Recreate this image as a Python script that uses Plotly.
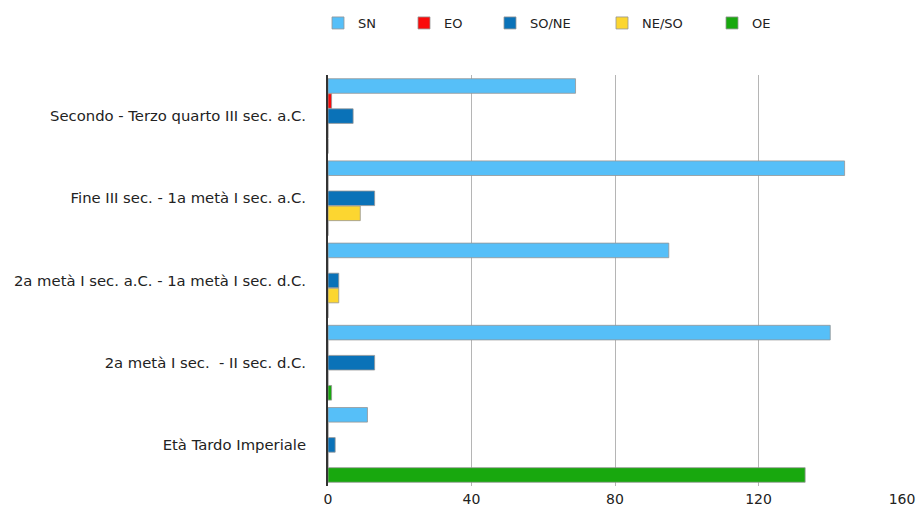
import plotly.graph_objects as go

categories = [
    "Secondo - Terzo quarto III sec. a.C.",
    "Fine III sec. - 1a metà I sec. a.C.",
    "2a metà I sec. a.C. - 1a metà I sec. d.C.",
    "2a metà I sec.  - II sec. d.C.",
    "Età Tardo Imperiale",
]
series_names = ["SN", "EO", "SO/NE", "NE/SO", "OE"]
sn = [69, 144, 95, 140, 11]
eo = [1, 0, 0, 0, 0]
so_ne = [7, 13, 3, 13, 2]
ne_so = [0, 9, 3, 0, 0]
oe = [0, 0, 0, 1, 133]
colors = ["#56BFF8", "#FA0A0A", "#0A72B8", "#FCD630", "#18A80E"]
x_ticks = [0, 40, 80, 120, 160]

values = [sn, eo, so_ne, ne_so, oe]
W, H = 917, 508
legend_px = [318, 404, 490, 602, 712]

fig = go.Figure()
for i, (name, vals, col) in enumerate(zip(series_names, values, colors)):
    lg = "legend" if i == 0 else f"legend{i+1}"
    fig.add_trace(go.Bar(
        y=categories, x=vals, name=name, orientation="h",
        marker=dict(color=col, line=dict(color="rgba(150,150,150,0.8)", width=1)),
        legend=lg,
    ))

font_family = "DejaVu Sans, Verdana, sans-serif"
layout_legends = {}
for i in range(5):
    key = "legend" if i == 0 else f"legend{i+1}"
    layout_legends[key] = dict(
        x=legend_px[i] / W, y=1 - 23 / H, xref="container", yref="container",
        xanchor="left", yanchor="middle", orientation="h",
        font=dict(family=font_family, size=13, color="#222"),
        bgcolor="rgba(0,0,0,0)", borderwidth=0,
    )

fig.update_layout(
    width=W, height=H,
    margin=dict(l=328, r=15, t=75, b=22, autoexpand=False),
    paper_bgcolor="white", plot_bgcolor="white",
    barmode="group", bargap=0.085, bargroupgap=0.03,
    font=dict(family=font_family, size=15, color="#222"),
    showlegend=True,
    **layout_legends,
)
fig.update_xaxes(
    range=[0, 160], tickvals=x_ticks, ticktext=[str(t) for t in x_ticks],
    showgrid=True, gridcolor="#B5B5B5", gridwidth=1,
    zeroline=False, showline=False, ticks="", automargin=False,
    ticklabelstandoff=3,
    tickfont=dict(family=font_family, size=14, color="#222"),
)
fig.update_yaxes(
    autorange="reversed", showgrid=False, showline=True,
    linecolor="#333", linewidth=2, ticks="", ticklabelstandoff=17,
    automargin=False,
    tickfont=dict(family=font_family, size=14.8, color="#222"),
)
fig.write_html("out.html")
